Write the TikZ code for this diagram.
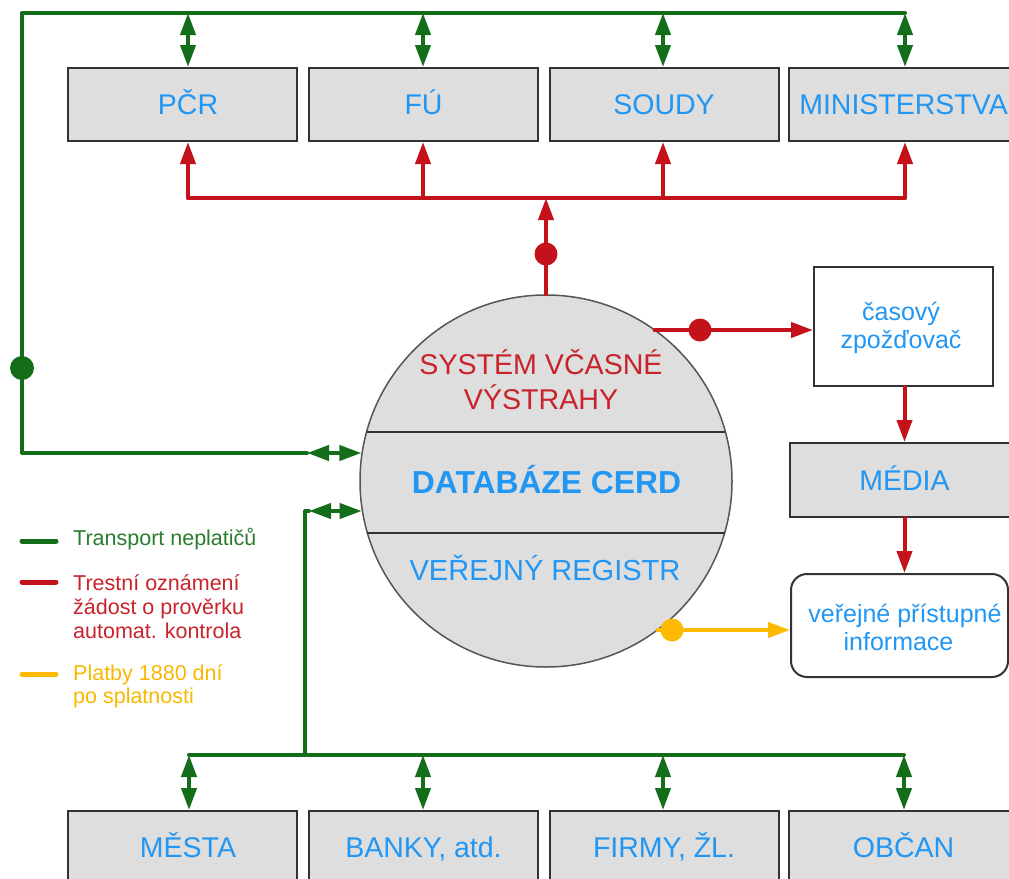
\documentclass[tikz,border=0pt]{standalone}
\usepackage{fontspec}
\setmainfont{Liberation Sans}
\usetikzlibrary{arrows.meta,calc}
\definecolor{grn}{HTML}{146E19}
\definecolor{rd}{HTML}{C4121B}
\definecolor{ylw}{HTML}{FCBA03}
\definecolor{txtblue}{HTML}{2196F3}
\definecolor{txtred}{HTML}{C8232B}
\definecolor{lgreen}{HTML}{2A7D2E}
\definecolor{lyellow}{HTML}{F9B800}
\definecolor{boxgray}{HTML}{DEDEDE}
\definecolor{edge}{HTML}{333333}
\definecolor{ringgray}{HTML}{555555}
\newcommand\txtrows[2]{\begin{tabular}[t]{@{}#1@{}}#2\end{tabular}}

\begin{document}
\begin{tikzpicture}[x=1pt,y=-1pt,
  >={Triangle[length=22pt,width=15pt]},
  box/.style={draw=edge, line width=2pt, fill=boxgray, minimum width=229pt,
    minimum height=73pt, inner sep=0pt, text=txtblue,
    font=\fontsize{28.5}{32}\selectfont, text height=20.4pt, text depth=0pt},
  wbox/.style={draw=edge, line width=2pt, fill=white, inner sep=0pt},
  gl/.style={draw=grn, line width=4pt, line join=round, line cap=round},
  rl/.style={draw=rd, line width=4pt, line join=round, line cap=round},
  yl/.style={draw=ylw, line width=4pt, line cap=round},
  dot/.style={circle, inner sep=0pt, minimum size=23pt},
  lbl/.style={inner sep=0pt, anchor=base},
  legtxt/.style={inner sep=0pt, anchor=base west, font=\fontsize{21.5}{24}\selectfont},
  swatch/.style={line width=5pt, line cap=round},
]
\useasboundingbox (0,0) rectangle (1009,878);
\clip (0,0) rectangle (1009,878);
\fill[white] (0,0) rectangle (1009,878);

% ---- boxes ----
\node[box] (pcr)   at (182.5,104.5) {\hspace*{11pt}PČR};
\node[box] (fu)    at (423.5,104.5) {FÚ};
\node[box] (soudy) at (664,104.5)   {SOUDY};
\node[box] (min)   at (903.5,104.5) {MINISTERSTVA};

\node[box] (mesta) at (182.5,847.5) {\hspace*{11pt}MĚSTA};
\node[box] (banky) at (423.5,847.5) {BANKY, atd.};
\node[box] (firmy) at (664,847.5)   {FIRMY, ŽL.};
\node[box] (obcan) at (903.5,847.5) {OBČAN};

\node[wbox, minimum width=179pt, minimum height=119pt] (cas) at (903.5,326.5) {};
\node[box, minimum height=74pt] (media) at (904.5,480) {MÉDIA};
\node[wbox, rounded corners=16pt, minimum width=217pt, minimum height=103pt] (ver) at (899.5,625.5) {};

\node[lbl, text=txtblue, font=\fontsize{25}{27.5}\selectfont] (cas-t) at (901,320.5)
  {\txtrows{c}{časový\\zpožďovač}};
\node[lbl, text=txtblue, font=\fontsize{25}{28.7}\selectfont] (ver-t) at (898.5,622)
  {\txtrows{c}{\hspace*{13pt}veřejné přístupné\\informace}};

% ---- central database ----
\node[circle, draw=ringgray, line width=1.5pt, fill=boxgray, minimum size=372pt, inner sep=0pt]
  (cerd) at (546,481) {};
\draw[draw=edge, line width=2pt] ($(cerd.center)+(-179.4,-49)$) -- ($(cerd.center)+(179.4,-49)$);
\draw[draw=edge, line width=2pt] ($(cerd.center)+(-178.6,52)$) -- ($(cerd.center)+(178.6,52)$);
\node[lbl, text=txtred, font=\fontsize{28.6}{34}\selectfont] (sys) at (541,374)
  {\txtrows{c}{SYSTÉM VČASNÉ\\VÝSTRAHY}};
\node[lbl, text=txtblue, font=\fontsize{31.8}{34}\selectfont\bfseries] (db) at (546.5,493) {DATABÁZE CERD};
\node[lbl, text=txtblue, font=\fontsize{29}{34}\selectfont] (reg) at (545,580) {VEŘEJNÝ REGISTR};

% ---- green: transport ----
\coordinate (gc) at (22,13);
\coordinate (t1) at (188,13);
\coordinate (t2) at (423,13);
\coordinate (t3) at (663,13);
\coordinate (t4) at (905,13);
\coordinate (gl1) at (22,453);
\coordinate (ga) at (307,453);
\draw[gl] (t4) -- (gc) -- (gl1) -- (ga);
\draw[gl,<->] (ga) -- ($(cerd.center)+(-184.6,-28)$);
\draw[gl,<->] (t1) -- (t1 |- pcr.north);
\draw[gl,<->] (t2) -- (t2 |- fu.north);
\draw[gl,<->] (t3) -- (t3 |- soudy.north);
\draw[gl,<->] (t4) -- (t4 |- min.north);
\node[dot, fill=grn, minimum size=24pt] (gdot) at (22,368) {};

\coordinate (b1) at (189,755);
\coordinate (b2) at (423,755);
\coordinate (b3) at (663,755);
\coordinate (b4) at (904,755);
\coordinate (gv) at (305,755);
\coordinate (gb) at (305,511);
\coordinate (gb2) at (309,511);
\draw[gl] (b1) -- (b4);
\draw[gl] (gv) -- (gb) -- (gb2);
\draw[gl,<->] (gb2) -- ($(cerd.center)+(-184.3,30)$);
\draw[gl,<->] (b1) -- (b1 |- mesta.north);
\draw[gl,<->] (b2) -- (b2 |- banky.north);
\draw[gl,<->] (b3) -- (b3 |- firmy.north);
\draw[gl,<->] (b4) -- (b4 |- obcan.north);

% ---- red: reports ----
\coordinate (r1) at (188,198);
\coordinate (r2) at (423,198);
\coordinate (r3) at (663,198);
\coordinate (r4) at (905,198);
\coordinate (rc) at (546,198);
\draw[rl] (r1) -- (r4);
\draw[rl,->] (r1) -- (r1 |- pcr.south);
\draw[rl,->] (r2) -- (r2 |- fu.south);
\draw[rl,->] (r3) -- (r3 |- soudy.south);
\draw[rl,->] (r4) -- (r4 |- min.south);
\draw[rl,->] (cerd.north) -- (rc);
\node[dot, fill=rd] (rdot1) at (546,254) {};

\coordinate (rout) at ($(cerd.center)+(108.6,-151)$);
\draw[rl,->] (rout) -- (rout -| cas.west);
\node[dot, fill=rd] (rdot2) at (700,330) {};
\draw[rl,->] (media.north |- cas.south) -- (media.north);
\draw[rl,->] (media.south) -- (media.south |- ver.north);

% ---- yellow: payments ----
\coordinate (yout) at ($(cerd.center)+(111.3,149)$);
\draw[yl,->] (yout) -- (yout -| ver.west);
\node[dot, fill=ylw] (ydot) at (672,630) {};

% ---- legend ----
\draw[swatch, draw=grn] (22,541) -- (56,541);
\draw[swatch, draw=rd] (22,582) -- (56,582);
\draw[swatch, draw=ylw] (22,674) -- (56,674);
\node[legtxt, text=lgreen] (leg1) at (73,545) {Transport neplatičů};
\node[legtxt, text=txtred] (leg2) at (73,590)
  {\txtrows{l}{Trestní oznámení\\žádost o prověrku\\automat. kontrola}};
\node[legtxt, text=lyellow, font=\fontsize{21.5}{23}\selectfont] (leg3) at (73,680)
  {\txtrows{l}{Platby 1880 dní\\po splatnosti}};
\end{tikzpicture}
\end{document}
